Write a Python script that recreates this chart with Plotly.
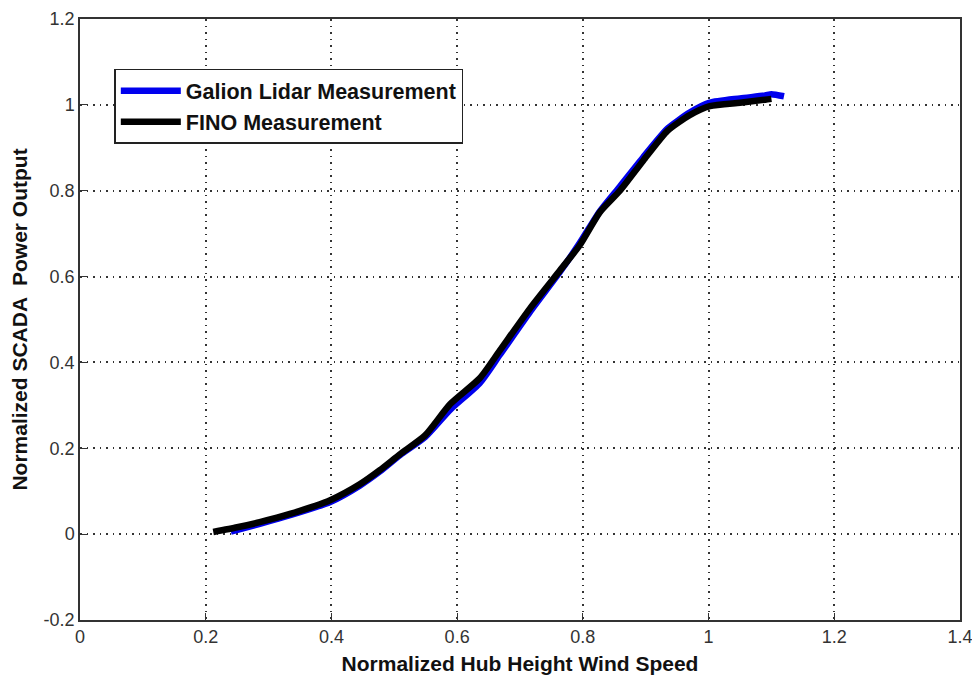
import plotly.graph_objects as go

# Data
fino_x = [0.212, 0.25, 0.286, 0.334, 0.398, 0.445, 0.477, 0.509, 0.549, 0.589, 0.636, 0.668,
          0.716, 0.764, 0.795, 0.827, 0.859, 0.896, 0.935, 0.97, 1.002, 1.05, 1.09, 1.10]
fino_y = [0.005, 0.016, 0.028, 0.047, 0.079, 0.116, 0.149, 0.186, 0.23, 0.303, 0.363, 0.428,
          0.526, 0.615, 0.673, 0.75, 0.80, 0.87, 0.94, 0.976, 0.997, 1.005, 1.012, 1.014]

galion_x = [0.24, 0.286, 0.334, 0.398, 0.445, 0.477, 0.509, 0.549, 0.589, 0.636, 0.668,
            0.716, 0.764, 0.795, 0.827, 0.859, 0.896, 0.935, 0.97, 1.002, 1.05, 1.09, 1.10, 1.12]
galion_y = [0.006, 0.024, 0.044, 0.075, 0.113, 0.146, 0.184, 0.226, 0.29, 0.352, 0.418,
            0.518, 0.612, 0.678, 0.752, 0.81, 0.878, 0.945, 0.982, 1.005, 1.015, 1.022, 1.025, 1.02]

x_ticks = [0, 0.2, 0.4, 0.6, 0.8, 1, 1.2, 1.4]
x_labels = ["0", "0.2", "0.4", "0.6", "0.8", "1", "1.2", "1.4"]
y_ticks = [-0.2, 0, 0.2, 0.4, 0.6, 0.8, 1, 1.2]
y_labels = ["-0.2", "0", "0.2", "0.4", "0.6", "0.8", "1", "1.2"]

fig = go.Figure()
fig.add_trace(go.Scatter(x=galion_x, y=galion_y, mode="lines", name="<b>Galion Lidar Measurement</b>",
                         line=dict(color="#0000ee", width=6.5, shape="spline", smoothing=0.6)))
fig.add_trace(go.Scatter(x=fino_x, y=fino_y, mode="lines", name="<b>FINO Measurement</b>",
                         line=dict(color="#000000", width=6.5, shape="spline", smoothing=0.6)))

axis_common = dict(
    showline=True, linecolor="#333333", linewidth=1.5, mirror=True,
    ticks="inside", ticklen=7, tickcolor="#333333",
    showgrid=True, gridcolor="#333333", griddash="1.5px,5px", gridwidth=1.5,
    zeroline=False, automargin=False, ticklabeloverflow="allow",
    tickfont=dict(family="Liberation Sans, Arial", size=18, color="#333333"),
)

fig.update_layout(
    width=972, height=675,
    margin=dict(l=80, r=12, t=19, b=55),
    paper_bgcolor="white", plot_bgcolor="white",
    font=dict(family="Liberation Sans, Arial", color="#111111"),
    xaxis=dict(range=[0, 1.4], tickvals=x_ticks, ticktext=x_labels,
               title=dict(text="<b>Normalized Hub Height Wind Speed</b>",
                          font=dict(size=21, color="#111111"), standoff=12),
               **axis_common),
    yaxis=dict(range=[-0.2, 1.2], tickvals=y_ticks, ticktext=y_labels,
               title=dict(text="<b>Normalized SCADA  Power Output</b>",
                          font=dict(size=21, color="#111111"), standoff=10),
               **axis_common),
    legend=dict(x=0.039, y=0.917, xanchor="left", yanchor="top",
                bgcolor="white", bordercolor="#222222", borderwidth=1.5,
                font=dict(size=21.5, color="#111111", family="Liberation Sans, Arial"),
                tracegroupgap=0, itemwidth=60),
    showlegend=True,
)

fig.write_html("out.html")
